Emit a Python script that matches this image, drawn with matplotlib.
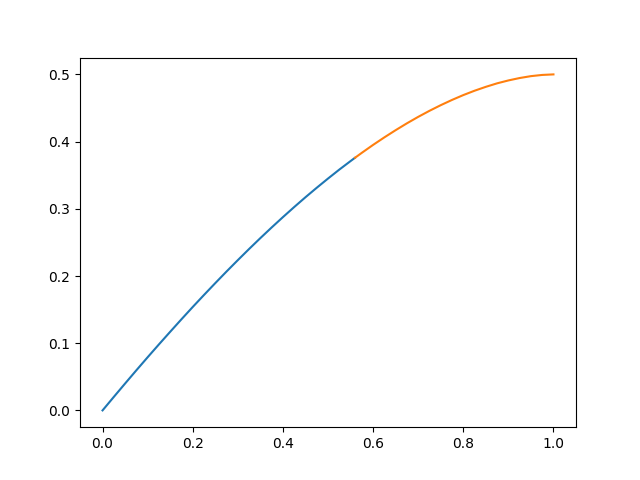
import matplotlib
matplotlib.use("Agg")
import matplotlib.pyplot as plt

# values
x_first = [0.000, 0.025, 0.050, 0.075, 0.100, 0.125, 0.150, 0.175, 0.200, 0.225,
           0.250, 0.275, 0.300, 0.325, 0.350, 0.375, 0.400, 0.425, 0.450, 0.475,
           0.500, 0.525, 0.550, 0.560]
y_first = [0.0000, 0.0201, 0.0400, 0.0597, 0.0791, 0.0982, 0.1170, 0.1356, 0.1539, 0.1718,
           0.1894, 0.2067, 0.2236, 0.2402, 0.2564, 0.2722, 0.2876, 0.3026, 0.3172, 0.3313,
           0.3450, 0.3583, 0.3710, 0.3760]

x_second = [0.560, 0.575, 0.600, 0.625, 0.650, 0.675, 0.700, 0.725, 0.750, 0.775,
            0.800, 0.825, 0.850, 0.875, 0.900, 0.925, 0.950, 0.975, 1.000]
y_second = [0.3760, 0.3833, 0.3951, 0.4063, 0.4170, 0.4272, 0.4368, 0.4458, 0.4542, 0.4620,
            0.4692, 0.4757, 0.4815, 0.4867, 0.4910, 0.4946, 0.4974, 0.4992, 0.5000]

fig, ax = plt.subplots(figsize=(6.4, 4.8), dpi=100)
ax.plot(x_first, y_first)
ax.plot(x_second, y_second)
fig.savefig("out.png")
